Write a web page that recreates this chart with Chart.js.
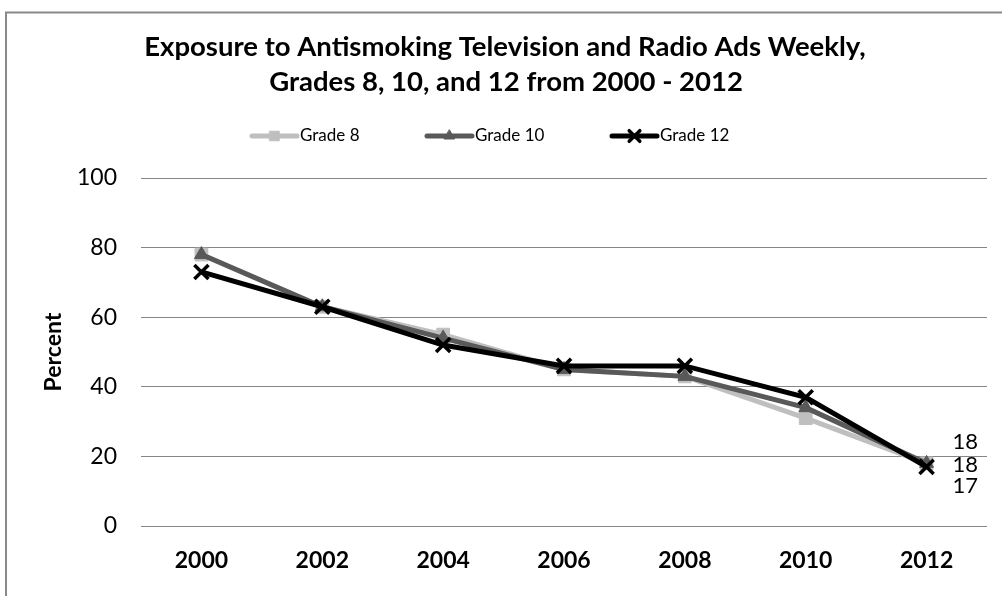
<!DOCTYPE html>
<html><head><meta charset="utf-8">
<script src="https://cdn.jsdelivr.net/npm/chart.js@4.4.1/dist/chart.umd.min.js"></script>
<style>html,body{margin:0;padding:0;background:#fff;} #wrap{width:1002px;height:596px;position:relative;}</style>
</head><body><div id="wrap"><canvas id="c" width="1002" height="596"></canvas></div>
<script>
const years = ['2000','2002','2004','2006','2008','2010','2012'];
const grade8 = [78, 63, 55, 45, 43, 31, 18];
const grade10 = [78, 63, 54, 45, 43, 34, 18];
const grade12 = [73, 63, 52, 46, 46, 37, 17];
const yTicks = [0, 20, 40, 60, 80, 100];
const seriesNames = ['Grade 8', 'Grade 10', 'Grade 12'];
const titleLines = ['Exposure to Antismoking Television and Radio Ads Weekly,', 'Grades 8, 10, and 12 from 2000 - 2012'];
const yTitle = 'Percent';

const FONT = 'Lato, "Open Sans", sans-serif';
const styles = [
  {color: '#bfbfbf', pointStyle: 'rect', radius: 9, pbw: 1, order: 3, legendX: 252, labelDy: -21},
  {color: '#595959', pointStyle: 'triangle', radius: 8, pbw: 1, order: 2, legendX: 427, labelDy: 2},
  {color: '#000000', pointStyle: 'crossRot', radius: 10, pbw: 3.5, order: 1, legendX: 612, labelDy: 19}
];
const seriesData = [grade8, grade10, grade12];

const decor = {
  id: 'decor',
  beforeDraw(chart) {
    const ctx = chart.ctx;
    ctx.save();
    ctx.fillStyle = '#fff';
    ctx.fillRect(0, 0, chart.width, chart.height);
    ctx.strokeStyle = '#898989';
    ctx.lineWidth = 2;
    ctx.beginPath();
    ctx.moveTo(6, 620); ctx.lineTo(6, 12.5); ctx.lineTo(1020, 12.5);
    ctx.stroke();
    ctx.restore();
  },
  afterDraw(chart) {
    const ctx = chart.ctx;
    ctx.save();
    // title
    ctx.fillStyle = '#000';
    ctx.font = 'bold 27.5px ' + FONT;
    ctx.textAlign = 'center';
    ctx.textBaseline = 'middle';
    ctx.fillText(titleLines[0], 505, 47);
    ctx.fillText(titleLines[1], 506, 82);
    // legend
    const ly = 136;
    styles.forEach((s, i) => {
      ctx.strokeStyle = s.color;
      ctx.lineWidth = 5;
      ctx.lineCap = 'round';
      ctx.beginPath();
      ctx.moveTo(s.legendX, ly); ctx.lineTo(s.legendX + 45, ly);
      ctx.stroke();
      ctx.fillStyle = s.color;
      ctx.strokeStyle = s.color;
      ctx.lineWidth = s.pbw;
      Chart.helpers.drawPoint(ctx, {pointStyle: s.pointStyle, radius: s.radius * 0.75, rotation: 0, borderWidth: s.pbw}, s.legendX + 22.5, ly);
      ctx.fillStyle = '#000';
      ctx.font = '17px ' + FONT;
      ctx.textAlign = 'left';
      ctx.textBaseline = 'middle';
      ctx.fillText(seriesNames[i], s.legendX + 48, ly);
    });
    // data labels on last point
    ctx.font = '22px ' + FONT;
    ctx.fillStyle = '#000';
    ctx.textAlign = 'left';
    ctx.textBaseline = 'middle';
    seriesData.forEach((arr, i) => {
      const meta = chart.getDatasetMeta(i);
      const last = arr.length - 1;
      const pt = meta.data[last];
      ctx.fillText(String(arr[last]), pt.x + 26, pt.y + styles[i].labelDy);
    });
    ctx.restore();
  }
};

new Chart(document.getElementById('c'), {
  type: 'line',
  data: {
    labels: years,
    datasets: seriesData.map((arr, i) => ({
      label: seriesNames[i],
      data: arr,
      borderColor: styles[i].color,
      backgroundColor: styles[i].color,
      pointBackgroundColor: styles[i].color,
      pointBorderColor: styles[i].color,
      pointStyle: styles[i].pointStyle,
      pointRadius: styles[i].radius,
      pointBorderWidth: styles[i].pbw,
      borderWidth: 5,
      tension: 0,
      fill: false,
      order: styles[i].order
    }))
  },
  options: {
    responsive: false,
    devicePixelRatio: 1,
    animation: false,
    layout: {padding: {top: 178, right: 15, bottom: 0, left: 0}},
    plugins: {legend: {display: false}, title: {display: false}, tooltip: {enabled: false}},
    scales: {
      x: {
        offset: true,
        grid: {display: false},
        border: {display: false},
        ticks: {color: '#000', font: {family: FONT, size: 23, weight: 'bold'}, padding: 13, maxRotation: 0},
        afterFit: s => { s.height = 70; }
      },
      y: {
        min: 0, max: 100,
        afterBuildTicks: s => { s.ticks = yTicks.map(v => ({value: v})); },
        grid: {color: '#868686', lineWidth: 1, drawTicks: false},
        border: {display: false},
        ticks: {color: '#000', font: {family: FONT, size: 23}, padding: 24},
        title: {display: true, text: yTitle, color: '#000', font: {family: FONT, size: 23, weight: 'bold'}, padding: {top: 40, bottom: 0}},
        afterFit: s => { s.width = 141; }
      }
    }
  },
  plugins: [decor]
});
</script>
</body></html>
